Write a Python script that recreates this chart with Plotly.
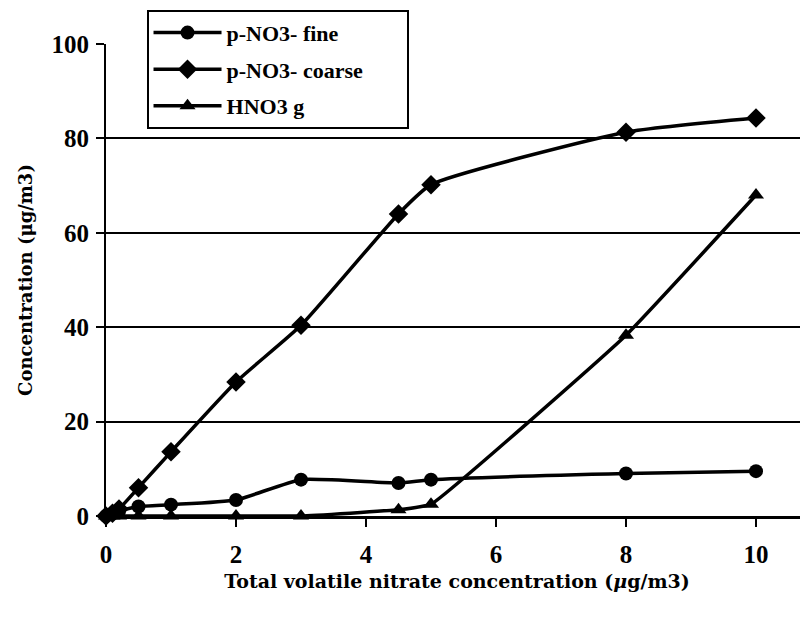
import plotly.graph_objects as go

x_vals = [0, 0.1, 0.2, 0.5, 1, 2, 3, 4.5, 5, 8, 10]
fine = [0, 0.5, 1.0, 2.0, 2.4, 3.4, 7.7, 7.0, 7.7, 9.0, 9.5]
coarse = [0, 0.6, 1.5, 6.0, 13.6, 28.4, 40.4, 64.0, 70.2, 81.3, 84.3]
hno3 = [0, 0, 0, 0, 0, 0, 0, 1.3, 2.5, 38.3, 68.0]

names = ["p-NO3- fine", "p-NO3- coarse", "HNO3 g"]
xticks = [0, 2, 4, 6, 8, 10]
yticks = [0, 20, 40, 60, 80, 100]

tick_font = "Liberation Serif"
title_font = "DejaVu Serif"
pad = "\u00a0" * 7  # widens the legend box like the original

fig = go.Figure()
fig.add_trace(go.Scatter(x=x_vals, y=fine, name=names[0], legendgroup="a", mode="lines+markers",
                         line=dict(color="black", width=3.5, shape="spline", smoothing=0.5),
                         marker=dict(symbol="circle", size=14, color="black"), cliponaxis=False))
fig.add_trace(go.Scatter(x=x_vals, y=coarse, name=names[1] + pad, legendgroup="b", mode="lines+markers",
                         line=dict(color="black", width=3.5, shape="spline", smoothing=0.5),
                         marker=dict(symbol="diamond", size=15, color="black"), cliponaxis=False))
fig.add_trace(go.Scatter(x=x_vals, y=hno3, name=names[2], legendgroup="c", mode="lines+markers",
                         line=dict(color="black", width=3.5, shape="spline", smoothing=0.3),
                         marker=dict(symbol="triangle-up", size=14, color="black"), cliponaxis=False))

fig.update_layout(
    width=800, height=610,
    margin=dict(l=98, r=0, t=36, b=102),
    paper_bgcolor="white", plot_bgcolor="white",
    font=dict(family=tick_font, color="black"),
    showlegend=True,
    legend=dict(x=0.058, y=1.072, xanchor="left", yanchor="top",
                bordercolor="black", borderwidth=1.8, bgcolor="white",
                font=dict(family=tick_font, size=22, color="black", weight="bold"),
                itemwidth=68, tracegroupgap=5),
    xaxis=dict(range=[0, 10.8], tickvals=xticks, ticks="outside", ticklen=8, tickwidth=1.5,
               tickcolor="black", showline=True, linecolor="black", linewidth=3,
               showgrid=False, zeroline=False, automargin=False, ticklabelstandoff=6,
               tickfont=dict(family=tick_font, size=25, color="black", weight="bold"),
               title=dict(text="Total volatile nitrate concentration (<i>μ</i>g/m3)", standoff=8,
                          font=dict(family=title_font, size=19, color="black", weight="bold"))),
    yaxis=dict(range=[0, 100], tickvals=yticks, ticks="outside", ticklen=8, tickwidth=1.5,
               tickcolor="black", showline=True, linecolor="black", linewidth=2,
               showgrid=True, gridcolor="black", gridwidth=1.5, zeroline=False, automargin=False,
               ticklabelstandoff=2,
               tickfont=dict(family=tick_font, size=25, color="black", weight="bold"),
               title=dict(text="Concentration (μg/m3)", standoff=14,
                          font=dict(family=title_font, size=18, color="black", weight="bold"))),
)

fig.write_html("out.html")
